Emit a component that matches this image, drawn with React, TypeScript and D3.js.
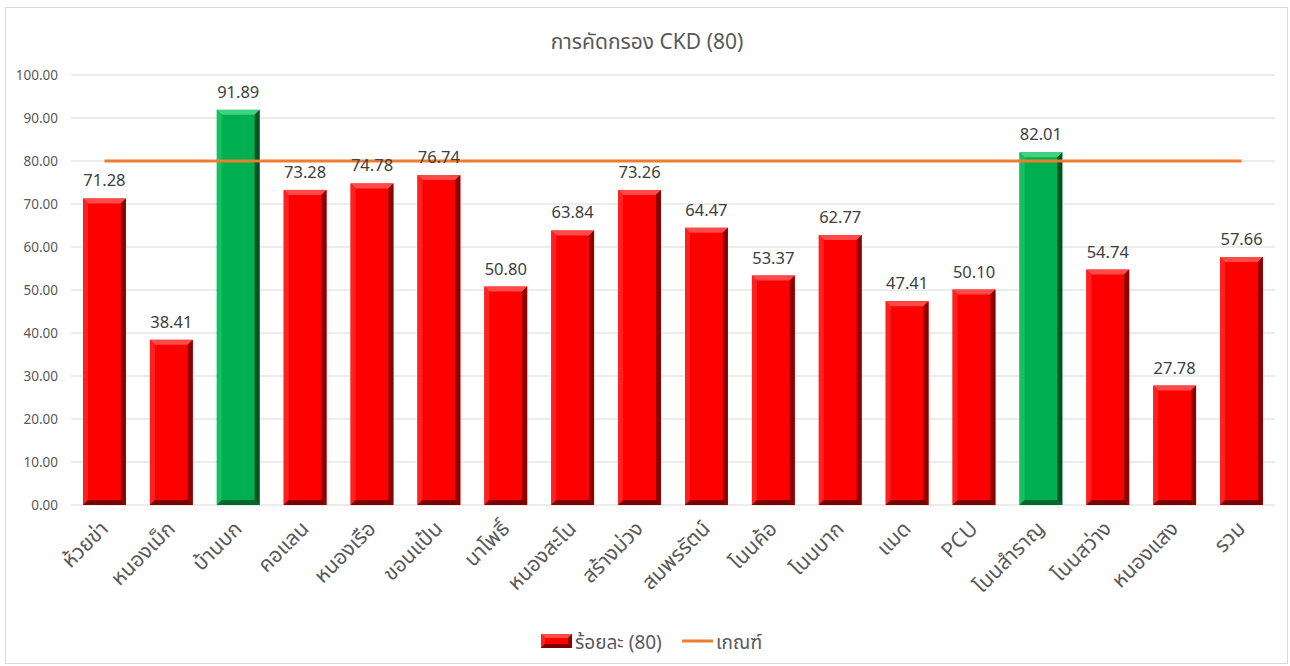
import React from 'react';
import * as d3 from 'd3';

const categories = ['ห้วยข่า', 'หนองเม็ก', 'บ้านบก', 'คอแลน', 'หนองเรือ', 'ขอนแป้น', 'นาโพธิ์', 'หนองสะโน', 'สร้างม่วง', 'สมพรรัตน์', 'โนนค้อ', 'โนนบาก', 'แมด', 'PCU', 'โนนสำราญ', 'โนนสว่าง', 'หนองแสง', 'รวม'];
const percent = [71.28, 38.41, 91.89, 73.28, 74.78, 76.74, 50.80, 63.84, 73.26, 64.47, 53.37, 62.77, 47.41, 50.10, 82.01, 54.74, 27.78, 57.66];
const criterion = [80, 80, 80, 80, 80, 80, 80, 80, 80, 80, 80, 80, 80, 80, 80, 80, 80, 80];
const yTicks = [0, 10, 20, 30, 40, 50, 60, 70, 80, 90, 100];

const W = 1290;
const H = 666;
const FONT = '"Noto Sans", "Noto Sans Thai", Tahoma, sans-serif';

const palette = {
  red: { face: '#ff0000', top: '#ff4a4a', left: '#ff2020', right: '#8c0000', bottom: '#7a0000' },
  green: { face: '#00b050', top: '#3fd27f', left: '#14c060', right: '#005424', bottom: '#006a2e' },
};

// bar with a bevel, like the excel "cool slant" look
const BevelBar = ({ x, y, w, h, colors, b0 = 5 }) => {
  const b = Math.min(b0, h / 2);
  const x2 = x + w;
  const y2 = y + h;
  const p = (pts) => pts.map((d) => d.join(',')).join(' ');
  return (
    <g>
      <rect x={x} y={y} width={w} height={h} fill={colors.face} />
      <polygon points={p([[x, y], [x2, y], [x2 - b, y + b], [x + b, y + b]])} fill={colors.top} />
      <polygon points={p([[x, y], [x + b, y + b], [x + b, y2 - b], [x, y2]])} fill={colors.left} />
      <polygon points={p([[x2, y], [x2, y2], [x2 - b, y2 - b], [x2 - b, y + b]])} fill={colors.right} />
      <polygon points={p([[x, y2], [x + b, y2 - b], [x2 - b, y2 - b], [x2, y2]])} fill={colors.bottom} />
    </g>
  );
};

export default function App() {
  const left = 71;
  const right = 1275;
  const top = 75;
  const bottom = 505;

  const x = d3.scaleBand().domain(categories).range([left, right]).paddingInner(0.36).paddingOuter(0.18);
  const y = d3.scaleLinear().domain([0, 100]).range([bottom, top]);

  const line = d3.line()
    .x((d, i) => x(categories[i]) + x.bandwidth() / 2)
    .y((d) => y(d));

  return (
    <svg width={W} height={H} style={{ display: 'block', position: 'absolute', left: 0, top: 0 }} fontFamily={FONT}>
      <rect x={5.5} y={7.5} width={1282} height={656} fill="#fff" stroke="#d9d9d9" />

      <text x={647} y={49} textAnchor="middle" fontSize={21} fill="#595959">การคัดกรอง CKD (80)</text>

      {yTicks.map((t) => (
        <g key={t}>
          <line x1={left} x2={right} y1={y(t)} y2={y(t)} stroke="#d9d9d9" strokeWidth={1} />
          <text x={58} y={y(t) + 5} textAnchor="end" fontSize={13.5} fill="#595959">{t.toFixed(2)}</text>
        </g>
      ))}

      {percent.map((v, i) => {
        const c = categories[i];
        const colors = v >= criterion[i] ? palette.green : palette.red;
        return (
          <BevelBar key={c} x={x(c)} y={y(v)} w={x.bandwidth()} h={y(0) - y(v)} colors={colors} />
        );
      })}

      <path d={line(criterion)} fill="none" stroke="#ed7d31" strokeWidth={3} />

      {percent.map((v, i) => (
        <text key={'v' + i} x={x(categories[i]) + x.bandwidth() / 2} y={y(v) - 12} textAnchor="middle" fontSize={16.5} fill="#404040">
          {v.toFixed(2)}
        </text>
      ))}

      {categories.map((c) => {
        const cx = x(c) + x.bandwidth() / 2 + 5;
        const cy = 530;
        return (
          <text key={'l' + c} transform={`translate(${cx},${cy}) rotate(-45)`} textAnchor="end" fontSize={21} fill="#595959">
            {c}
          </text>
        );
      })}

      <g>
        <BevelBar x={541} y={634} w={31} h={14} colors={palette.red} b0={4} />
        <text x={575} y={649} fontSize={19} fill="#595959">ร้อยละ (80)</text>
        <line x1={682} x2={713} y1={641} y2={641} stroke="#ed7d31" strokeWidth={3} />
        <text x={716} y={649} fontSize={19} fill="#595959">เกณฑ์</text>
      </g>
    </svg>
  );
}
